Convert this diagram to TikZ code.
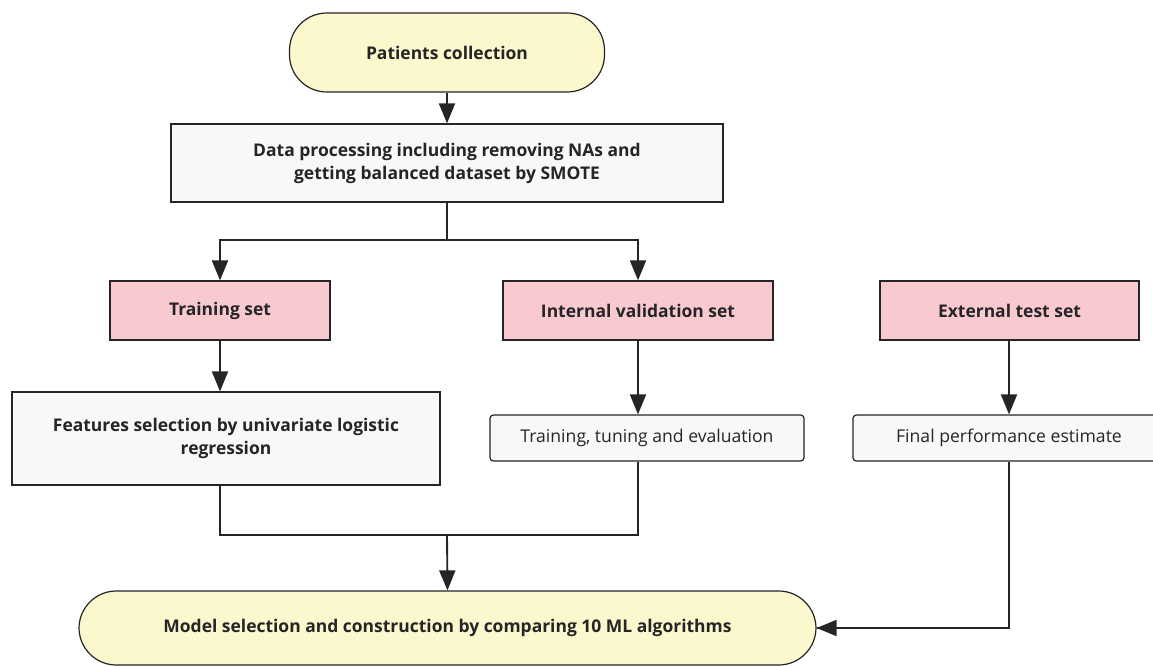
\documentclass[tikz,border=0pt]{standalone}
\usepackage{fontspec}
\setmainfont{Open Sans}
\usetikzlibrary{arrows.meta}

\definecolor{termfill}{HTML}{FAF8CC}
\definecolor{setfill}{HTML}{F8CAD0}
\definecolor{stepfill}{HTML}{F8F8F8}
\definecolor{inkline}{HTML}{262426}

\begin{document}
\begin{tikzpicture}[x=0.75pt, y=-0.75pt,
		box/.style={draw=inkline, line width=0.9pt, align=center, text=inkline, inner sep=2pt},
		bold/.style={font=\fontsize{13.1}{17.25}\selectfont\bfseries},
		plain/.style={font=\fontsize{13.2}{16}\selectfont},
		terminal/.style={box, bold, fill=termfill, rounded corners=28pt},
		dataset/.style={box, bold, fill=setfill},
		stepbox/.style={box, fill=stepfill},
		flow/.style={-{Triangle[length=15pt, width=12pt]}, inkline, line width=1.4pt},
		link/.style={inkline, line width=0.9pt}]
		\useasboundingbox (0, 0) rectangle (1153, 667);

		\node[terminal, minimum width=236.25pt, minimum height=59.25pt] (patients) at (447, 52.5) {Patients collection};
		\node[stepbox, bold, minimum width=414pt, minimum height=58.5pt] (data) at (447, 163) {Data processing including removing NAs and\\getting balanced dataset by SMOTE};

		\node[dataset, minimum width=165pt, minimum height=44.25pt] (train) at (220, 310.5) {Training set};
		\node[dataset, minimum width=202.5pt, minimum height=44.25pt] (intval) at (638, 310.5) {Internal validation set};
		\node[dataset, minimum width=194.25pt, minimum height=44.25pt] (exttest) at (1009.5, 310.5) {External test set};

		\node[stepbox, bold, minimum width=321pt, minimum height=69.75pt] (features) at (226, 438.5) {Features selection by univariate logistic\\regression};
		\node[stepbox, plain, rounded corners=2.5pt, minimum width=235.5pt, minimum height=34.5pt] (tuning) at (647, 438) {Training, tuning and evaluation};
		\node[stepbox, plain, rounded corners=2.5pt, minimum width=234pt, minimum height=34.5pt] (final) at (1009, 438) {Final performance estimate};

		\node[terminal, minimum width=552.75pt, minimum height=55.5pt] (model) at (447.5, 628) {Model selection and construction by comparing 10 ML algorithms};

		\coordinate (split) at (447, 240);
		\coordinate (merge) at (447, 535);

		\draw[flow]	(patients) to (data);
		\draw[link]	(data.south) to (split);
		\draw[flow]	(split) -| (train.north);
		\draw[flow]	(split) -| (intval.north);

		\draw[flow]	(train.south) to (train.south |- features.north);
		\draw[flow]	(intval.south) to (intval.south |- tuning.north);
		\draw[flow]	(final.north |- exttest.south) to (final.north);

		\draw[link]	(train.south |- features.south) |- (merge) -| (intval.south |- tuning.south);
		\draw[flow]	(merge) to (model.north);
		\draw[link]	(final.south) |- (model.east);
		\draw[flow]	(final.south |- model.east) ++(-1, 0) to (model.east);
	\end{tikzpicture}
\end{document}
